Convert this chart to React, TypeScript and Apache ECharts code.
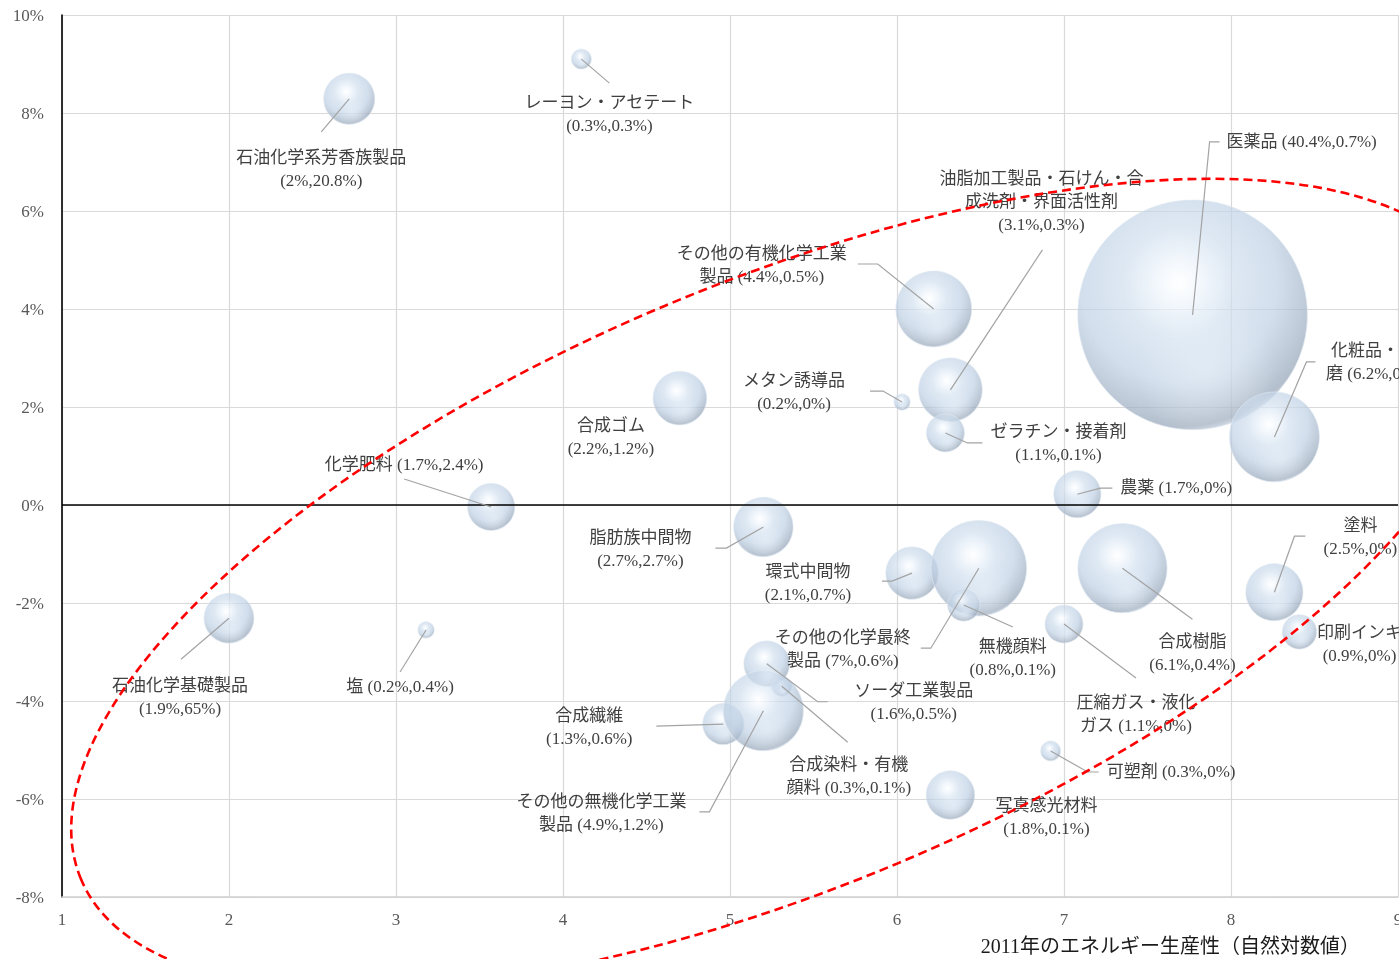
import React, { useEffect, useRef } from "react";
import * as echarts from "echarts";

// ---------- data ----------
const names = [
  "石油化学系芳香族製品",
  "レーヨン・アセテート",
  "医薬品",
  "油脂加工製品・石けん・合成洗剤・界面活性剤",
  "その他の有機化学工業製品",
  "化粧品・歯磨",
  "メタン誘導品",
  "ゼラチン・接着剤",
  "合成ゴム",
  "化学肥料",
  "農薬",
  "脂肪族中間物",
  "環式中間物",
  "その他の化学最終製品",
  "無機顔料",
  "合成樹脂",
  "圧縮ガス・液化ガス",
  "塗料",
  "印刷インキ",
  "石油化学基礎製品",
  "塩",
  "合成繊維",
  "ソーダ工業製品",
  "合成染料・有機顔料",
  "その他の無機化学工業製品",
  "写真感光材料",
  "可塑剤",
];
// x: 2011 energy productivity (natural log)
const energyProductivity = [
  2.72, 4.11, 7.77, 6.32, 6.22, 8.26, 6.03, 6.29, 4.7, 3.57, 7.08, 5.2, 6.09,
  6.49, 6.4, 7.35, 7.0, 8.26, 8.41, 2.0, 3.18, 4.96, 5.22, 5.31, 5.2, 6.32, 6.92,
];
// y: growth rate (%)
const growthRate = [
  8.29, 9.1, 3.88, 2.35, 4.0, 1.39, 2.1, 1.47, 2.18, -0.04, 0.22, -0.45, -1.39,
  -1.29, -2.04, -1.29, -2.43, -1.78, -2.59, -2.31, -2.55, -4.47, -3.24, -3.7,
  -4.2, -5.92, -5.02,
];
// first value in label (bubble size)
const valueShare = [
  2, 0.3, 40.4, 3.1, 4.4, 6.2, 0.2, 1.1, 2.2, 1.7, 1.7, 2.7, 2.1, 7, 0.8, 6.1,
  1.1, 2.5, 0.9, 1.9, 0.2, 1.3, 1.6, 0.3, 4.9, 1.8, 0.3,
];
// second value in label
const energyShare = [
  20.8, 0.3, 0.7, 0.3, 0.5, 0, 0, 0.1, 1.2, 2.4, 0, 2.7, 0.7, 0.6, 0.1, 0.4, 0,
  0, 0, 65, 0.4, 0.6, 0.5, 0.1, 1.2, 0.1, 0,
];
const xAxisTitle = "2011年のエネルギー生産性（自然対数値）";

// ---------- label layout (pixel offsets from bubble centre) ----------
type Lay = {
  dx: number;
  dy: number;
  align?: string;
  wrap?: number[];
  split: boolean;
  leader: number[][];
};
const LABELS: Lay[] = [
  { dx: -28, dy: 59, split: true, leader: [[-28, 33]] },
  { dx: 28, dy: 43, split: true, leader: [[28, 24]] },
  { dx: 34, dy: -173, align: "left", split: false, leader: [[17, -173], [27, -173]] },
  { dx: 91, dy: -211, wrap: [12], split: true, leader: [[92, -140]] },
  { dx: -172, dy: -56, wrap: [10], split: false, leader: [[-56, -45], [-76, -45]] },
  { dx: 99, dy: -86, wrap: [5], split: false, leader: [[32, -75], [41, -75]] },
  { dx: -108, dy: -22, split: true, leader: [[-19, -11], [-32, -11]] },
  { dx: 113, dy: -1, split: true, leader: [[22, 10], [37, 10]] },
  { dx: -69, dy: 27, split: true, leader: [] },
  { dx: -87, dy: -42, split: false, leader: [[-87, -28]] },
  { dx: 43, dy: -7, align: "left", split: false, leader: [[23, -6], [35, -6]] },
  { dx: -123, dy: 10, split: true, leader: [[-37, 21], [-48, 21]] },
  { dx: -104, dy: -2, split: true, leader: [[-20, 8], [-30, 8]] },
  { dx: -136, dy: 69, wrap: [8], split: false, leader: [[-48, 80], [-58, 80]] },
  { dx: 49, dy: 42, split: true, leader: [[49, 22]] },
  { dx: 70, dy: 73, split: true, leader: [[70, 51]] },
  { dx: 72, dy: 78, wrap: [7], split: false, leader: [[72, 54]] },
  { dx: 86, dy: -67, split: true, leader: [[20, -56], [31, -56]] },
  { dx: 60, dy: 1, split: true, leader: [] },
  { dx: -49, dy: 67, split: true, leader: [[-48, 41]] },
  { dx: -26, dy: 57, split: false, leader: [[-26, 42]] },
  { dx: -134, dy: -9, split: true, leader: [[-67, 2]] },
  { dx: 147, dy: 27, split: true, leader: [[51, 38], [61, 38]] },
  { dx: 67, dy: 78, wrap: [7], split: false, leader: [[66, 56]] },
  { dx: -162, dy: 91, wrap: [10], split: false, leader: [[-54, 101], [-64, 101]] },
  { dx: 96, dy: 10, split: true, leader: [] },
  { dx: 56, dy: 21, align: "left", split: false, leader: [[37, 21], [48, 21]] },
];

const ELLIPSE = { center: [5.31, -1.62], rx: 760, ry: 302, angleDeg: 22.8 };

const FONT = "'Liberation Serif', 'Noto Sans CJK JP', serif";
const LINE_H = 23;

function labelText(i: number): string {
  const L = LABELS[i];
  const name = names[i];
  const parts: string[] = [];
  let prev = 0;
  for (const b of L.wrap || []) {
    parts.push(name.slice(prev, b));
    prev = b;
  }
  parts.push(name.slice(prev));
  const val = `(${valueShare[i]}%,${energyShare[i]}%)`;
  if (L.split) parts.push(val);
  else parts[parts.length - 1] += " " + val;
  return parts.join("\n");
}

export default function App() {
  const ref = useRef<HTMLDivElement>(null);

  useEffect(() => {
    if (!ref.current) return;
    const chart = echarts.init(ref.current, null, { renderer: "svg" });

    const bubbleData = names.map((n, i) => ({
      name: n,
      value: [energyProductivity[i], growthRate[i], valueShare[i]],
    }));
    const labelData = names.map((_, i) => [energyProductivity[i], growthRate[i], i]);
    const sizeFn = (v: number[]) => 36.12 * Math.sqrt(v[2]);

    const option: any = {
      animation: false,
      textStyle: { fontFamily: FONT },
      grid: {
        left: 62,
        right: 1,
        top: 15,
        bottom: 62,
        containLabel: false,
        outerBoundsMode: "none",
      },
      xAxis: {
        type: "value",
        min: 1,
        max: 9,
        interval: 1,
        axisLine: { onZero: false, lineStyle: { color: "#d0d0d0", width: 1.5 } },
        axisTick: { show: false },
        axisLabel: { color: "#595959", fontSize: 17, margin: 14, fontFamily: FONT },
        splitLine: { show: true, lineStyle: { color: "#d9d9d9", width: 1.2 } },
      },
      yAxis: {
        type: "value",
        min: -8,
        max: 10,
        interval: 2,
        axisLine: { show: true, onZero: false, lineStyle: { color: "#000", width: 1.6 } },
        axisTick: { show: false },
        axisLabel: {
          color: "#595959",
          fontSize: 17,
          margin: 18,
          fontFamily: FONT,
          formatter: "{value}%",
        },
        splitLine: { show: true, lineStyle: { color: "#d9d9d9", width: 1.2 } },
      },
      series: [
        {
          type: "scatter",
          data: bubbleData,
          symbolSize: sizeFn,
          itemStyle: {
            color: {
              type: "radial",
              x: 0.44,
              y: 0.36,
              r: 0.66,
              colorStops: [
                { offset: 0, color: "rgba(255,255,255,0.97)" },
                { offset: 0.13, color: "rgba(240,246,252,0.92)" },
                { offset: 0.38, color: "rgba(206,221,237,0.87)" },
                { offset: 0.66, color: "rgba(189,207,227,0.87)" },
                { offset: 0.85, color: "rgba(165,181,200,0.89)" },
                { offset: 0.95, color: "rgba(150,165,184,0.9)" },
                { offset: 1, color: "rgba(198,210,225,0.9)" },
              ],
            },
            borderColor: "rgba(222,231,241,0.8)",
            borderWidth: 1,
          },
          emphasis: { disabled: true },
          silent: true,
          z: 2,
          markLine: {
            silent: true,
            symbol: ["none", "none"],
            label: { show: false },
            lineStyle: { color: "#000", width: 1.5, type: "solid" },
            data: [{ yAxis: 0 }],
            animation: false,
          },
        },
        {
          // soft reflection on the lower part of each glass bubble
          type: "scatter",
          data: bubbleData,
          symbolSize: sizeFn,
          itemStyle: {
            color: {
              type: "radial",
              x: 0.56,
              y: 0.74,
              r: 0.3,
              colorStops: [
                { offset: 0, color: "rgba(240,247,253,0.55)" },
                { offset: 1, color: "rgba(240,247,253,0)" },
              ],
            },
          },
          emphasis: { disabled: true },
          silent: true,
          z: 3,
        },
        {
          type: "custom",
          data: labelData,
          encode: { x: 0, y: 1 },
          clip: false,
          silent: true,
          z: 5,
          renderItem: (params: any, api: any) => {
            const i = api.value(2);
            const c = api.coord([api.value(0), api.value(1)]);
            const L = LABELS[i];
            const children: any[] = [];
            if (L.leader.length) {
              const pts = [[c[0], c[1]]].concat(
                L.leader.map((p) => [c[0] + p[0], c[1] + p[1]])
              );
              children.push({
                type: "polyline",
                shape: { points: pts },
                style: { stroke: "#a3a3a3", lineWidth: 1.2, fill: "none" },
              });
            }
            children.push({
              type: "text",
              x: c[0] + L.dx,
              y: c[1] + L.dy - LINE_H / 2,
              style: {
                text: labelText(i),
                align: L.align || "center",
                verticalAlign: "top",
                lineHeight: LINE_H,
                fontSize: 17,
                fontFamily: FONT,
                fill: "#404040",
              },
            });
            return { type: "group", children };
          },
        },
      ],
    };
    chart.setOption(option);

    const ec = chart.convertToPixel({ xAxisIndex: 0, yAxisIndex: 0 }, ELLIPSE.center) as number[];
    chart.setOption({
      graphic: [
        {
          type: "text",
          id: "xtitle",
          x: 1360,
          y: 946,
          silent: true,
          style: {
            text: xAxisTitle,
            align: "right",
            verticalAlign: "middle",
            fontSize: 20,
            fontFamily: FONT,
            fill: "#1a1a1a",
          },
          z: 50,
        },
        {
          type: "ellipse",
          id: "ellipse",
          x: ec[0],
          y: ec[1],
          rotation: (ELLIPSE.angleDeg * Math.PI) / 180,
          shape: { cx: 0, cy: 0, rx: ELLIPSE.rx, ry: ELLIPSE.ry },
          style: { fill: "none", stroke: "#ff0000", lineWidth: 2.6, lineDash: [9, 5] },
          silent: true,
          z: 100,
        },
      ],
    });

    return () => chart.dispose();
  }, []);

  return (
    <div
      ref={ref}
      style={{ position: "fixed", left: 0, top: 0, width: 1399, height: 959 }}
    />
  );
}
